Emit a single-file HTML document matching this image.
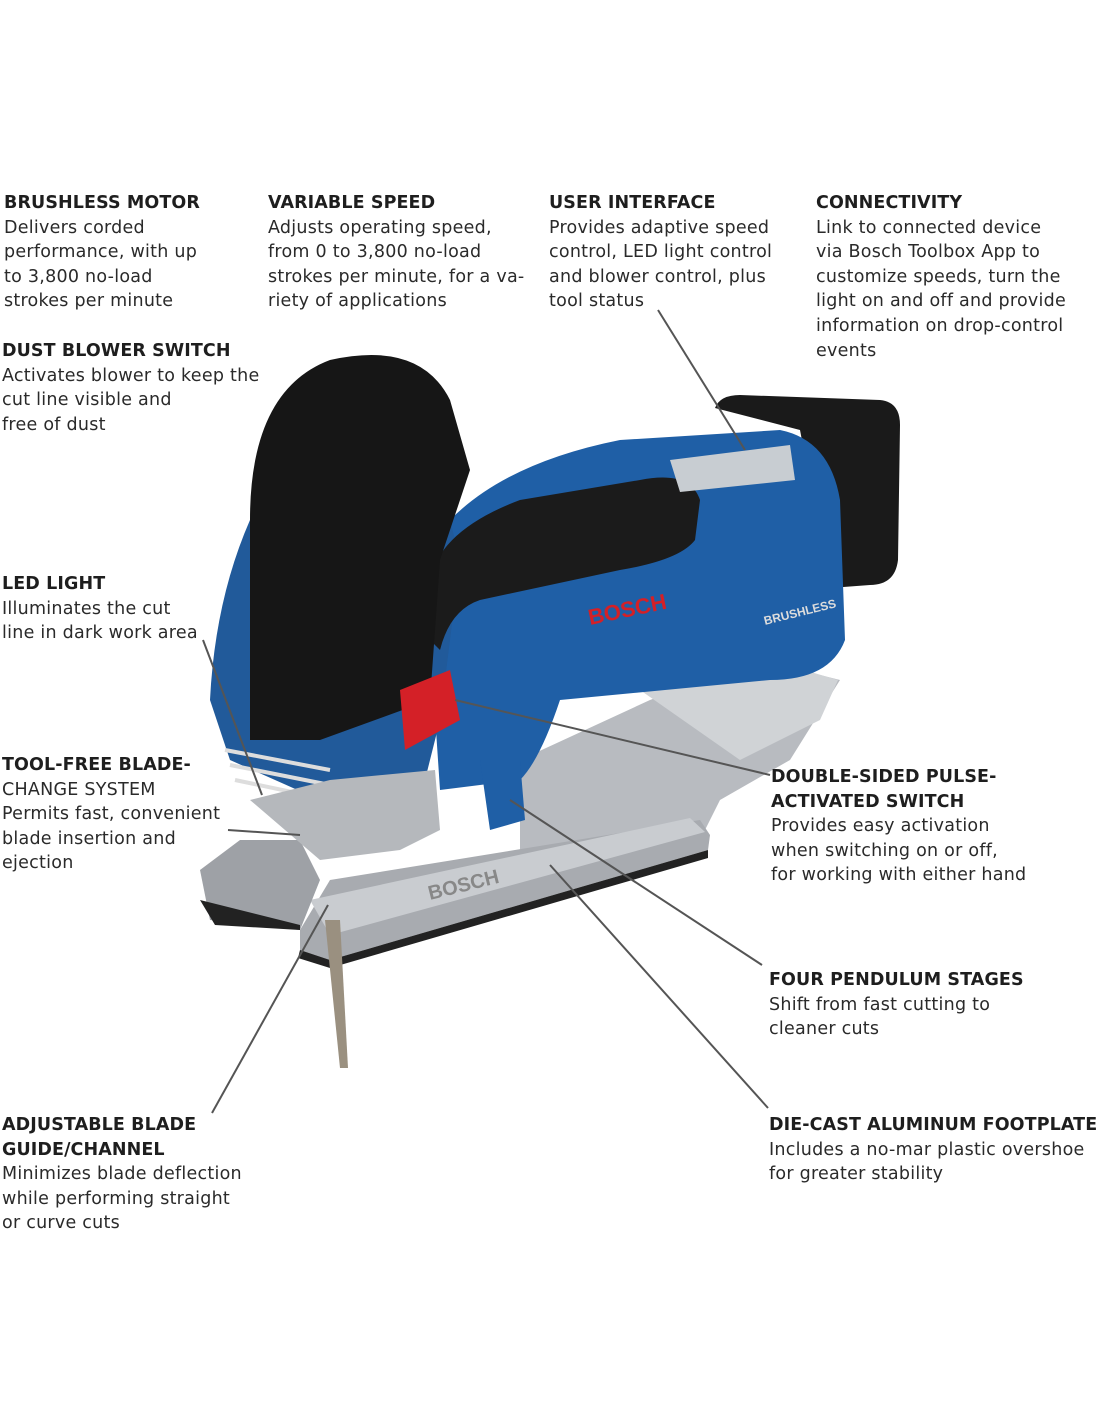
<!DOCTYPE html>
<html><head><meta charset="utf-8"><style>
body{margin:0;width:1100px;height:1422px;background:#fff;position:relative;overflow:hidden;font-family:"DejaVu Sans","Liberation Sans",sans-serif;color:#2a2a2a}
.t{position:absolute;font-size:17.5px;line-height:24.6px;white-space:nowrap;letter-spacing:0.25px}
.t b{font-weight:bold;color:#1e1e1e;font-size:17.5px;letter-spacing:0.1px}
svg{position:absolute;left:0;top:0}
</style></head><body>
<svg width="1100" height="1422" viewBox="0 0 1100 1422">
<path d="M715 408 Q720 395 740 395 L880 400 Q900 402 900 425 L898 560 Q895 585 870 585 L830 588 L800 430 Z" fill="#1a1a1a"/>
<path d="M520 760 L650 700 L760 660 L840 680 L790 760 L720 800 L700 840 L520 880 Z" fill="#b8bbc0"/>
<path d="M640 690 L770 660 L838 680 L820 720 L740 760 Z" fill="#d0d3d6"/>
<path d="M300 930 L330 880 L700 820 L710 835 L708 850 L330 960 L300 950 Z" fill="#a8abb0"/>
<path d="M310 900 L690 818 L705 832 L330 935 Z" fill="#c9ccd0"/>
<path d="M200 870 L240 840 L300 840 L320 880 L300 930 L210 920 Z" fill="#9ea1a6"/>
<path d="M200 900 L300 925 L300 930 L215 925 Z" fill="#222"/>
<path d="M300 950 L330 960 L708 850 L708 858 L330 968 L298 958 Z" fill="#222"/>
<path d="M325 920 L340 920 L348 1068 L340 1068 Z" fill="#9a9080"/>
<path d="M420 560 Q470 470 620 440 L780 430 Q830 440 840 500 L845 640 Q830 680 770 680 L560 700 Q540 760 520 780 L440 790 L430 640 Z" fill="#1f5fa6"/>
<path d="M210 700 Q215 600 250 520 L300 460 L430 440 L460 560 L440 720 L420 800 L320 800 L230 760 Z" fill="#215a9a"/>
<path d="M480 760 L520 760 L525 820 L490 830 Z" fill="#1f5fa6"/>
<path d="M430 580 Q440 530 520 500 L640 480 Q690 470 700 500 L695 540 Q680 560 620 570 L480 600 Q450 610 440 650 L430 640 Z" fill="#1b1b1b"/>
<path d="M250 520 Q250 390 330 360 Q420 340 450 400 L470 470 L440 560 L430 700 L320 740 L250 740 Z" fill="#161616"/>
<path d="M670 460 L790 445 L795 480 L680 492 Z" fill="#c8cdd2"/>
<path d="M400 690 L450 670 L460 720 L405 750 Z" fill="#d42027"/>
<g stroke="#ddd" stroke-width="4"><line x1="225" y1="750" x2="330" y2="770"/><line x1="230" y1="765" x2="330" y2="785"/><line x1="235" y1="780" x2="330" y2="800"/></g>
<path d="M250 800 L330 780 L435 770 L440 830 L400 850 L320 860 Z" fill="#b5b8bc"/>
<text x="590" y="625" font-family="Liberation Sans" font-weight="bold" font-size="22" fill="#d42027" transform="rotate(-12 590 625)">BOSCH</text>
<text x="430" y="900" font-family="Liberation Sans" font-weight="bold" font-size="20" fill="#888" transform="rotate(-14 430 900)">BOSCH</text>
<text x="765" y="625" font-family="Liberation Sans" font-weight="bold" font-size="12" fill="#ddd" transform="rotate(-14 765 625)">BRUSHLESS</text>
<g stroke="#555" stroke-width="2" fill="none">
<line x1="658" y1="310" x2="745" y2="450"/>
<line x1="203" y1="640" x2="262" y2="795"/>
<line x1="228" y1="830" x2="300" y2="835"/>
<line x1="455" y1="700" x2="770" y2="775"/>
<line x1="510" y1="800" x2="762" y2="965"/>
<line x1="550" y1="865" x2="768" y2="1108"/>
<line x1="212" y1="1113" x2="328" y2="905"/>
</g>
</svg>
<div class="t" style="left:4px;top:191px"><b>BRUSHLESS MOTOR</b><br>Delivers corded<br>performance, with up<br>to 3,800 no-load<br>strokes per minute</div>
<div class="t" style="left:268px;top:191px"><b>VARIABLE SPEED</b><br>Adjusts operating speed,<br>from 0 to 3,800 no-load<br>strokes per minute, for a va-<br>riety of applications</div>
<div class="t" style="left:549px;top:191px"><b>USER INTERFACE</b><br>Provides adaptive speed<br>control, LED light control<br>and blower control, plus<br>tool status</div>
<div class="t" style="left:816px;top:191px"><b>CONNECTIVITY</b><br>Link to connected device<br>via Bosch Toolbox App to<br>customize speeds, turn the<br>light on and off and provide<br>information on drop-control<br>events</div>
<div class="t" style="left:2px;top:339px"><b>DUST BLOWER SWITCH</b><br>Activates blower to keep the<br>cut line visible and<br>free of dust</div>
<div class="t" style="left:2px;top:572px"><b>LED LIGHT</b><br>Illuminates the cut<br>line in dark work area</div>
<div class="t" style="left:2px;top:753px"><b>TOOL-FREE BLADE-</b><br>CHANGE SYSTEM<br>Permits fast, convenient<br>blade insertion and<br>ejection</div>
<div class="t" style="left:2px;top:1113px"><b>ADJUSTABLE BLADE<br>GUIDE/CHANNEL</b><br>Minimizes blade deflection<br>while performing straight<br>or curve cuts</div>
<div class="t" style="left:771px;top:765px"><b>DOUBLE-SIDED PULSE-<br>ACTIVATED SWITCH</b><br>Provides easy activation<br>when switching on or off,<br>for working with either hand</div>
<div class="t" style="left:769px;top:968px"><b>FOUR PENDULUM STAGES</b><br>Shift from fast cutting to<br>cleaner cuts</div>
<div class="t" style="left:769px;top:1113px"><b>DIE-CAST ALUMINUM FOOTPLATE</b><br>Includes a no-mar plastic overshoe<br>for greater stability</div>
</body></html>
